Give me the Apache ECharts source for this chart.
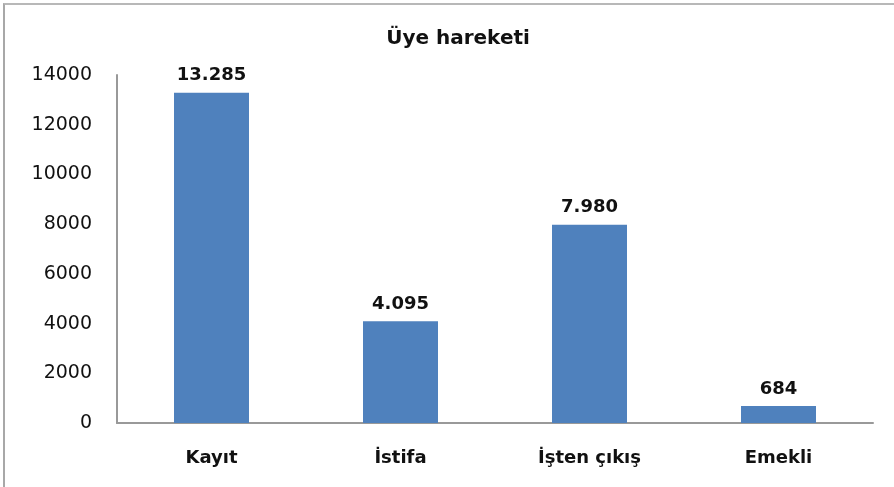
<!DOCTYPE html>
<html>
<head>
<meta charset="utf-8">
<script src="https://cdn.jsdelivr.net/npm/echarts@6/dist/echarts.min.js"></script>
<style>
  html, body { margin: 0; padding: 0; background: #fff; }
  #chart { width: 894px; height: 487px; }
  .frame {
    position: absolute; left: 3px; top: 3px; right: 0; bottom: 0;
    border-top: 2px solid #b8b8b8; border-left: 2px solid #a8a8a8;
    pointer-events: none;
  }
</style>
</head>
<body>
<div id="chart"></div>
<div class="frame"></div>
<script>
const categories = ['Kayıt', 'İstifa', 'İşten çıkış', 'Emekli']
const values = [13285, 4095, 7980, 684]
const yTicks = [0, 2000, 4000, 6000, 8000, 10000, 12000, 14000]

const font = '"DejaVu Sans", sans-serif'

// Turkish style thousands separator for the data labels
function dotted(n) {
  return String(n).replace(/\B(?=(\d{3})+(?!\d))/g, '.')
}

const chart = echarts.init(document.getElementById('chart'))
chart.setOption({
  animation: false,
  title: {
    text: 'Üye hareketi',
    left: 453,
    textAlign: 'center',
    top: 24,
    textStyle: { fontFamily: font, fontSize: 20, fontWeight: 'bold', color: '#111' }
  },
  grid: { left: 117, right: 21, top: 75, bottom: 64, containLabel: false },
  xAxis: {
    type: 'category',
    data: categories,
    axisLine: { lineStyle: { color: '#999', width: 2 } },
    axisTick: { show: false },
    axisLabel: {
      margin: 26,
      fontFamily: font, fontSize: 18, fontWeight: 'bold', color: '#111'
    }
  },
  yAxis: {
    type: 'value',
    min: yTicks[0],
    max: yTicks[yTicks.length - 1],
    interval: 2000,
    axisLine: { show: true, lineStyle: { color: '#999', width: 2 } },
    axisTick: { show: false },
    splitLine: { show: false },
    axisLabel: {
      margin: 25,
      formatter: v => String(v),
      fontFamily: font, fontSize: 19, color: '#111'
    }
  },
  series: [{
    type: 'bar',
    data: values,
    barWidth: 75,
    itemStyle: { color: '#4f81bd' },
    label: {
      show: true,
      position: 'top',
      distance: 8,
      formatter: p => dotted(p.value),
      fontFamily: font, fontSize: 18, fontWeight: 'bold', color: '#111'
    }
  }]
})
</script>
</body>
</html>
